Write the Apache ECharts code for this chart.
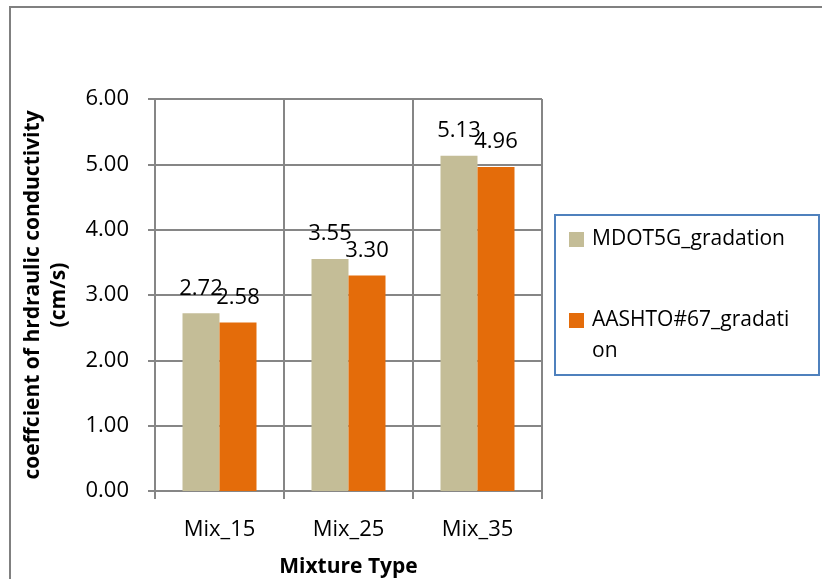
<!DOCTYPE html>
<html>
<head>
<meta charset="utf-8">
<style>
  html, body { margin: 0; padding: 0; background: #ffffff; }
  #chart { width: 822px; height: 579px; }
</style>
<script src="https://cdn.jsdelivr.net/npm/echarts@6/dist/echarts.min.js"></script>
</head>
<body>
<div id="chart"></div>
<script>
// Hydraulic conductivity by mixture type and gradation
const categories = ['Mix_15', 'Mix_25', 'Mix_35'];
const seriesNames = ['MDOT5G_gradation', 'AASHTO#67_gradation'];
const mdot5g = [2.72, 3.55, 5.13];
const aashto67 = [2.58, 3.30, 4.96];
const yTicks = { min: 0, max: 6, interval: 1 };

const FONT = 'Open Sans';
const GRID_GREY = '#868686';

const chart = echarts.init(document.getElementById('chart'), null, { renderer: 'canvas' });

const labelStyle = {
  show: true,
  position: 'top',
  distance: 14,
  color: '#000',
  fontFamily: FONT,
  fontSize: 22,
  formatter: p => p.value.toFixed(2)
};

const legendText = {
  fontFamily: FONT, fontSize: 21, color: '#000', lineHeight: 31, padding: [0, 0, 0, 3]
};

chart.setOption({
  animation: false,
  backgroundColor: '#ffffff',
  textStyle: { fontFamily: FONT },
  grid: { left: 155, right: 280, top: 99, bottom: 88, containLabel: false, outerBoundsMode: 'none' },
  graphic: [
    {
      // outer chart frame
      type: 'rect',
      shape: { x: 10, y: 7, width: 830, height: 600 },
      style: { fill: 'none', stroke: '#808080', lineWidth: 2 },
      silent: true
    },
    {
      // legend frame
      type: 'rect',
      shape: { x: 555, y: 215, width: 264, height: 160 },
      style: { fill: 'none', stroke: '#4F81BD', lineWidth: 2 },
      silent: true
    }
  ],
  legend: [
    {
      data: [seriesNames[0]],
      left: 569, top: 224,
      padding: 0,
      icon: 'rect', itemWidth: 15, itemHeight: 15,
      textStyle: legendText
    },
    {
      // long name wraps; a leading blank line keeps the first line level with the swatch
      data: [seriesNames[1]],
      left: 569, top: 274,
      padding: 0,
      icon: 'rect', itemWidth: 15, itemHeight: 15,
      formatter: name => '\n' + name,
      textStyle: Object.assign({}, legendText, { width: 203, overflow: 'breakAll' })
    }
  ],
  xAxis: {
    type: 'category',
    data: categories,
    name: 'Mixture Type',
    nameLocation: 'middle',
    nameGap: 66,
    nameTextStyle: { fontFamily: FONT, fontSize: 21, fontWeight: 'bold', color: '#000' },
    axisLine: { show: true, lineStyle: { color: GRID_GREY, width: 2 } },
    axisTick: { show: true, length: 8, lineStyle: { color: GRID_GREY, width: 2 } },
    splitLine: { show: true, lineStyle: { color: GRID_GREY, width: 2 } },
    axisLabel: { fontFamily: FONT, fontSize: 22, color: '#000', margin: 28 }
  },
  yAxis: {
    type: 'value',
    min: yTicks.min,
    max: yTicks.max,
    interval: yTicks.interval,
    name: 'coeffcient of hrdraulic conductivity\n(cm/s)',
    nameLocation: 'middle',
    nameRotate: 90,
    nameGap: 83,
    nameTextStyle: { fontFamily: FONT, fontSize: 21, fontWeight: 'bold', color: '#000', lineHeight: 26 },
    axisLine: { show: true, lineStyle: { color: GRID_GREY, width: 2 } },
    axisTick: { show: true, length: 7, lineStyle: { color: GRID_GREY, width: 2 } },
    splitLine: { show: true, lineStyle: { color: GRID_GREY, width: 2 } },
    axisLabel: {
      fontFamily: FONT, fontSize: 22, color: '#000', margin: 26,
      formatter: v => v.toFixed(2)
    }
  },
  series: [
    {
      name: seriesNames[0],
      type: 'bar',
      data: mdot5g,
      barWidth: 37,
      barGap: '0%',
      itemStyle: { color: '#C4BD97' },
      label: labelStyle
    },
    {
      name: seriesNames[1],
      type: 'bar',
      data: aashto67,
      barWidth: 37,
      barGap: '0%',
      itemStyle: { color: '#E46C0A' },
      label: labelStyle
    }
  ]
});
</script>
</body>
</html>
